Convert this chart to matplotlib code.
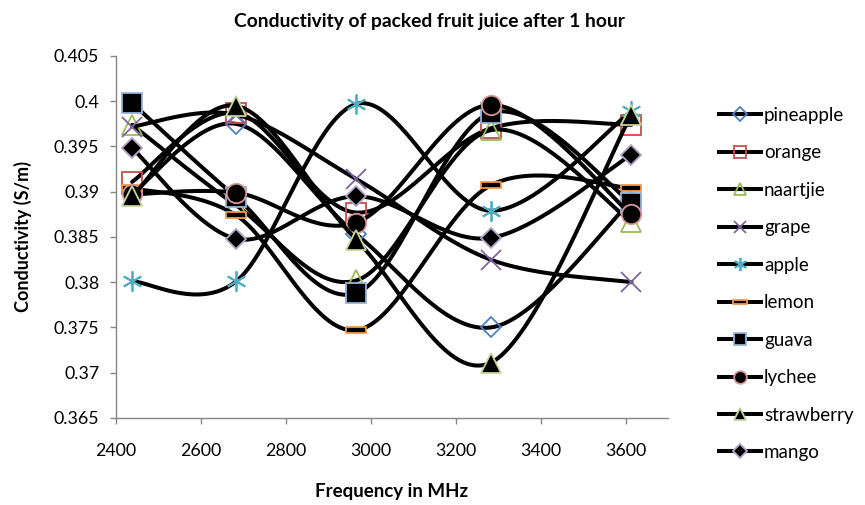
import numpy as np
import matplotlib
matplotlib.use("Agg")
import matplotlib.pyplot as plt
from matplotlib.path import Path

plt.rcParams['font.family'] = ['Lato', 'DejaVu Sans']

# ---- data ----
freq = [2438, 2683, 2966, 3282, 3614]
series_names = ["pineapple", "orange", "naartjie", "grape", "apple",
                "lemon", "guava", "lychee", "strawberry", "mango"]
pineapple = [0.3898, 0.3975, 0.3853, 0.3750, 0.3890]
orange = [0.3911, 0.3987, 0.3877, 0.3970, 0.3974]
naartjie = [0.3974, 0.3885, 0.3802, 0.3968, 0.3867]
grape = [0.3972, 0.3985, 0.3914, 0.3825, 0.3800]
apple = [0.3801, 0.3801, 0.3997, 0.3879, 0.3989]
lemon = [0.3904, 0.3874, 0.3747, 0.3907, 0.3904]
guava = [0.3998, 0.3894, 0.3788, 0.3987, 0.3888]
lychee = [0.3897, 0.3899, 0.3866, 0.3996, 0.3875]
strawberry = [0.3895, 0.3995, 0.3847, 0.3711, 0.3985]
mango = [0.3948, 0.3848, 0.3895, 0.3849, 0.3941]
values = [pineapple, orange, naartjie, grape, apple,
          lemon, guava, lychee, strawberry, mango]

x_ticks = [2400, 2600, 2800, 3000, 3200, 3400, 3600]
y_ticks = [0.365, 0.37, 0.375, 0.38, 0.385, 0.39, 0.395, 0.4, 0.405]
y_tick_labels = ["0.365", "0.37", "0.375", "0.38", "0.385", "0.39", "0.395", "0.4", "0.405"]


def smooth(xs, ys, n=40):
    """Excel-like smoothed line: Catmull-Rom cubic Bezier segments."""
    P = np.column_stack([xs, ys]).astype(float)
    m = len(P)
    out = [P[0]]
    t = np.linspace(0, 1, n)[1:, None]
    for i in range(m - 1):
        p0 = P[max(i - 1, 0)]
        p1 = P[i]
        p2 = P[i + 1]
        p3 = P[min(i + 2, m - 1)]
        c1 = p1 + (p2 - p0) / 6.0
        c2 = p2 - (p3 - p1) / 6.0
        seg = ((1 - t) ** 3) * p1 + 3 * ((1 - t) ** 2) * t * c1 + 3 * (1 - t) * t ** 2 * c2 + t ** 3 * p2
        out.extend(seg)
    out = np.array(out)
    return out[:, 0], out[:, 1]


lemon_marker = Path([(-1, -0.25), (1, -0.25), (1, 0.25), (-1, 0.25), (-1, -0.25)],
                    [Path.MOVETO, Path.LINETO, Path.LINETO, Path.LINETO, Path.CLOSEPOLY])

styles = {
    "pineapple": dict(marker='D', ms=10.5, mfc='none', mec='#4F81BD', mew=1.3),
    "orange": dict(marker='s', ms=14, mfc='none', mec='#C0504D', mew=1.3),
    "naartjie": dict(marker='^', ms=14, mfc='none', mec='#9BBB59', mew=1.3),
    "grape": dict(marker='x', ms=14, mfc='none', mec='#8064A2', mew=1.3),
    "apple": dict(marker=(6, 2, 0), ms=14.5, mfc='none', mec='#4BACC6', mew=1.3),
    "lemon": dict(marker=lemon_marker, ms=15, mfc='black', mec='#F79646', mew=1.3),
    "guava": dict(marker='s', ms=14, mfc='black', mec='#95B3D7', mew=1.3),
    "lychee": dict(marker='o', ms=14, mfc='black', mec='#D99694', mew=1.3),
    "strawberry": dict(marker='^', ms=14, mfc='black', mec='#C3D69B', mew=1.3),
    "mango": dict(marker='D', ms=10.5, mfc='black', mec='#B3A2C7', mew=1.3),
}

W, H = 865, 505
L, R, T, B = 116, 668, 56, 418
fig = plt.figure(figsize=(W / 100, H / 100), dpi=100)
ax = fig.add_axes([L / W, 1 - B / H, (R - L) / W, (B - T) / H])

handles = []
for name, ys in zip(series_names, values):
    sx, sy = smooth(freq, ys)
    ax.plot(sx, sy, color='black', lw=2.9, solid_capstyle='round')
    st = styles[name]
    ax.plot(freq, ys, linestyle='none', **st)
    h, = ax.plot([], [], color='black', lw=2.9, label=name,
                 **{k: v for k, v in st.items() if k != 'ms'}, ms=st['ms'] * 0.65)
    handles.append(h)

ax.set_xlim(2400, 3700)
ax.set_ylim(0.365, 0.405)
ax.set_xticks(x_ticks)
ax.set_yticks(y_ticks)
ax.set_yticklabels(y_tick_labels)

gray = '#868686'
for s in ['top', 'right']:
    ax.spines[s].set_visible(False)
for s in ['left', 'bottom']:
    ax.spines[s].set_color(gray)
    ax.spines[s].set_linewidth(1.0)
ax.tick_params(axis='both', colors=gray, length=4, width=1.0, direction='out',
               labelsize=12.8, labelcolor='black')
ax.tick_params(axis='x', pad=14)
ax.tick_params(axis='y', pad=8)

ax.set_xlabel("Frequency in MHz", fontsize=13.5, fontweight='bold')
ax.xaxis.set_label_coords(0.5, -(491.7 - B) / (B - T))
ax.xaxis.label.set_va('center')
ax.set_ylabel("Conductivity (S/m)", fontsize=13, fontweight='bold')
ax.yaxis.set_label_coords(-(L - 23) / (R - L), 0.5)
ax.yaxis.label.set_va('center')
fig.text(430 / W, 1 - 21 / H, "Conductivity of packed fruit juice after 1 hour",
         ha='center', va='center', fontsize=13.9, fontweight='bold')

leg = fig.legend(handles=handles, loc='upper left', bbox_to_anchor=(719 / W, 1 - 107 / H),
                 frameon=False, fontsize=13.5, handlelength=2.24, handletextpad=0.16,
                 labelspacing=1.09, borderpad=0, borderaxespad=0)

fig.savefig("out.png", dpi=100)
